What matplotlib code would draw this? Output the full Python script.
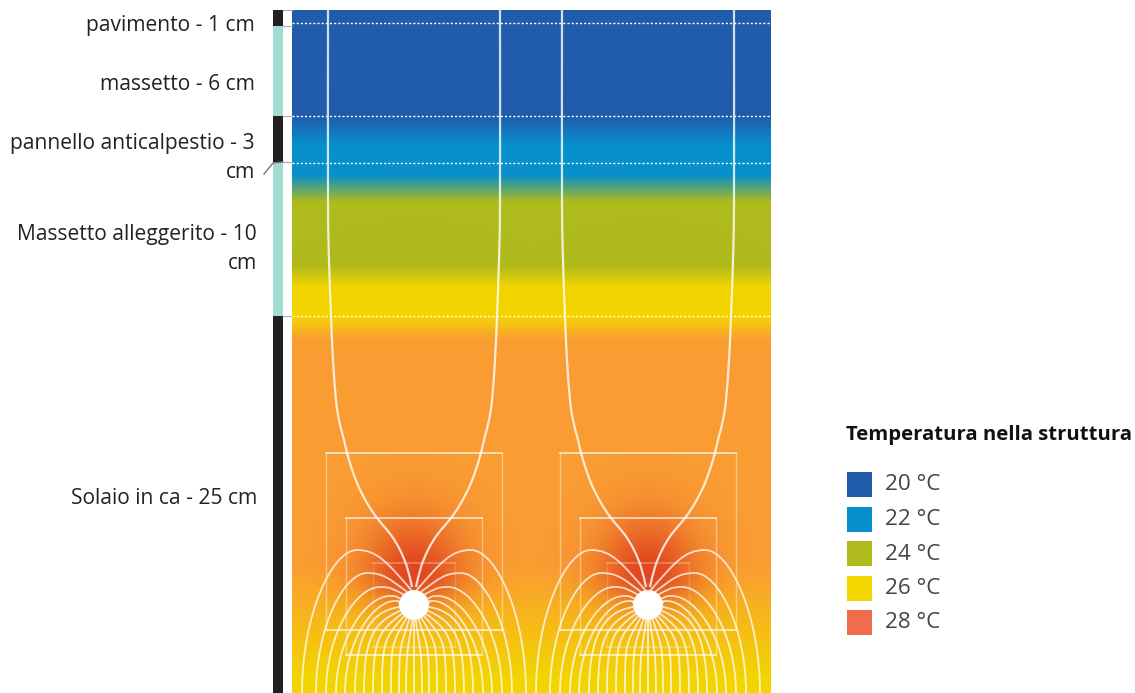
import numpy as np
from matplotlib import pyplot as plt
from matplotlib.colors import to_rgb
from matplotlib.path import Path
from matplotlib.patches import PathPatch, Circle, Rectangle

W, H = 1135, 693

# left layer labels
layer_labels = ["pavimento - 1 cm", "massetto - 6 cm", "pannello anticalpestio - 3\ncm",
                "Massetto alleggerito - 10\ncm", "Solaio in ca - 25 cm"]
label_right = [255, 255, 255, 257, 257]
label_y = [25, 84, 158, 249, 498]

# layer bar
bar_edges = [10, 26, 116, 162, 316, 693]
bar_colors = ["#231f20", "#a3dcd5", "#231f20", "#a3dcd5", "#231f20"]
dotted_y = [23, 116, 163, 316]

# vertical colour stops of the temperature field
stop_y = [10, 116, 145, 175, 202, 265, 287, 316, 340, 565, 680, 693]
stop_c = ["#215cab", "#215cab", "#078fcb", "#078fcb", "#afba1c", "#afba1c",
          "#f3d500", "#f3d500", "#fa9d33", "#fa9d33", "#f3d500", "#f3d500"]

# the two pipes
pipe_x = [414, 648]
pipe_y = 605
pipe_r = 15

# rectangles around a pipe, left/right/top/bottom as offset from the pipe
rect_dx = [88, 68, 41]
rect_top = [453, 518, 563]
rect_bottom = [630, 655, 647]
rect_alpha = [0.75, 0.75, 0.3]

# upper flow line, offset from the pipe centre (left side)
upper_dx = [86, 86, 85, 83, 81, 78, 75, 70, 65, 57, 47, 37, 23, 14, 7, 2]
upper_y = [10, 200, 260, 316, 360, 400, 420, 440, 460, 483, 503, 518, 535, 550, 567, 587]

# lower flow lines: angle on the pipe, apex and foot
lobe_angle = [100, 118, 135, 155, 172, 188, 203, 216, 228, 240, 252, 263]
lobe_apex_dx = [57, 47, 34, 24, 19, 0, 0, 0, 0, 0, 0, 0]
lobe_apex_y = [550, 573, 587, 596, 601, 0, 0, 0, 0, 0, 0, 0]
lobe_foot_dx = [112, 98, 88, 78, 69, 59, 50, 41, 32, 23, 15, 8]

legend_labels = ["20 °C", "22 °C", "24 °C", "26 °C", "28 °C"]
legend_colors = ["#215cab", "#078fcb", "#afba1c", "#f3d500", "#ef6d4c"]
legend_y = [484.5, 519, 553.5, 588, 622.5]


def smooth_path(px, py):
    # catmull-rom through the points, as bezier segments
    p = np.column_stack([px, py])
    p = np.vstack([p[0], p, p[-1]])
    verts = [tuple(p[1])]
    codes = [Path.MOVETO]
    for i in range(1, len(p) - 2):
        verts.append(tuple(p[i] + (p[i + 1] - p[i - 1]) / 6))
        verts.append(tuple(p[i + 1] - (p[i + 2] - p[i]) / 6))
        verts.append(tuple(p[i + 1]))
        codes += [Path.CURVE4] * 3
    return Path(verts, codes)


plt.rcParams['font.family'] = ['Open Sans', 'DejaVu Sans']

fig = plt.figure(figsize=(W / 100, H / 100), dpi=100)
ax = fig.add_axes([0, 0, 1, 1])

# field
xs = np.arange(292, 771) + 0.5
ys = np.arange(10, 693) + 0.5
rgb = np.array([to_rgb(c) for c in stop_c])
column = np.stack([np.interp(ys, stop_y, rgb[:, i]) for i in range(3)], axis=1)
field = np.repeat(column[:, None, :], len(xs), axis=1)
hot = np.array(to_rgb("#e0451f"))
gx, gy = np.meshgrid(xs, ys)
for px in pipe_x:
    sy = np.where(gy < 575, 58, 30)
    a = np.exp(-((gx - px) / 50.0) ** 2 - ((gy - 575) / sy) ** 2)[:, :, None]
    field = field * (1 - a) + hot * a
ax.imshow(field, extent=(292, 771, 693, 10), aspect='auto', interpolation='bilinear', zorder=1)
ax.set_xlim(0, W)
ax.set_ylim(H, 0)
ax.axis('off')

# layer bar
for top, bottom, color in zip(bar_edges[:-1], bar_edges[1:], bar_colors):
    ax.add_patch(Rectangle((273, top), 10, bottom - top, fc=color, ec='none', zorder=2))
for y in bar_edges[:-1]:
    ax.plot([283, 292], [y, y], color='#aaaaaa', lw=0.8, zorder=2)
ax.plot([264, 273, 283], [174, 163, 162], color='#777777', lw=1, zorder=2)

for y in dotted_y:
    ax.plot([292, 771], [y, y], color='white', lw=1, ls=(0, (1.5, 1.5)), zorder=3)

# pipes, rectangles and flow lines
for px in pipe_x:
    for dx, top, bottom, alpha in zip(rect_dx, rect_top, rect_bottom, rect_alpha):
        ax.plot([px - dx, px - dx], [top, bottom], color='white', lw=1, alpha=alpha * 0.55, zorder=3)
        ax.plot([px + dx, px + dx], [top, bottom], color='white', lw=1, alpha=alpha * 0.55, zorder=3)
        ax.plot([px - dx, px + dx], [top, top], color='white', lw=1.2, alpha=alpha, zorder=3)
        ax.plot([px - dx, px + dx], [bottom, bottom], color='white', lw=1.2, alpha=alpha, zorder=3)
    for side in (-1, 1):
        line_x = [px + side * d for d in upper_dx]
        ax.add_patch(PathPatch(smooth_path(line_x, upper_y), fc='none', ec='white', lw=1.6, alpha=0.8, zorder=4))
        for ang, adx, ay, fdx in zip(lobe_angle, lobe_apex_dx, lobe_apex_y, lobe_foot_dx):
            t = np.radians(ang)
            # angles are for the left half, side=1 mirrors them to the right
            sx = px - side * pipe_r * np.cos(t)
            sy = pipe_y - pipe_r * np.sin(t)
            foot = px + side * fdx
            if adx:
                top_x = px + side * adx
                verts = [(sx, sy), (sx + 0.45 * (top_x - sx), sy - 0.7 * (sy - ay)),
                         (top_x - side * adx * 0.35, ay), (top_x, ay),
                         (top_x + side * (fdx - adx) * 0.45, ay), (foot, ay + (H - ay) * 0.45), (foot, H)]
                codes = [Path.MOVETO] + [Path.CURVE4] * 6
            else:
                verts = [(sx, sy), (sx - side * 30 * np.cos(t), sy - 30 * np.sin(t)),
                         (foot, sy + (H - sy) * 0.35), (foot, H)]
                codes = [Path.MOVETO] + [Path.CURVE4] * 3
            ax.add_patch(PathPatch(Path(verts, codes), fc='none', ec='white', lw=1.3, alpha=0.75, zorder=4))
    ax.plot([px, px], [pipe_y, H], color='white', lw=1.3, alpha=0.75, zorder=4)
    ax.add_patch(Circle((px, pipe_y), pipe_r, fc='white', ec='none', zorder=5))

# labels
for text, right, y in zip(layer_labels, label_right, label_y):
    ax.text(right, y, text, ha='right', va='center', fontsize=15.1, color='#222222',
            linespacing=1.47, zorder=6)

# legend
ax.text(846, 435, "Temperatura nella struttura", ha='left', va='center', fontsize=14.6,
        fontweight='bold', color='#111111')
for text, color, y in zip(legend_labels, legend_colors, legend_y):
    ax.add_patch(Rectangle((847, y - 12.5), 25, 25, fc=color, ec='none'))
    ax.text(885, y + 0.5, text, ha='left', va='center', fontsize=16.2, color='#444444')

plt.savefig("out.png", dpi=100)
